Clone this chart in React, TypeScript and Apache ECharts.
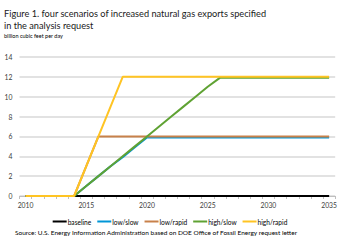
import React, { useEffect, useRef } from "react";
import * as echarts from "echarts";

const years = Array.from({ length: 26 }, (_, i) => String(2010 + i));
const baseline = [0,0,0,0,0,0,0,0,0,0,0,0,0,0,0,0,0,0,0,0,0,0,0,0,0,0];
const lowSlow = [0,0,0,0,0,1,2,3,3.9,4.9,5.9,5.9,5.9,5.9,5.9,5.9,5.9,5.9,5.9,5.9,5.9,5.9,5.9,5.9,5.9,5.9];
const lowRapid = [0,0,0,0,0,3,6,6,6,6,6,6,6,6,6,6,6,6,6,6,6,6,6,6,6,6];
const highSlow = [0,0,0,0,0,1,2,3,4,5,6,7,8,9,10,11,11.9,11.9,11.9,11.9,11.9,11.9,11.9,11.9,11.9,11.9];
const highRapid = [0,0,0,0,0,3,6,9,12,12,12,12,12,12,12,12,12,12,12,12,12,12,12,12,12,12];

const FONT = "Lato";

export default function App() {
  const ref = useRef<HTMLDivElement>(null);
  useEffect(() => {
    const chart = echarts.init(ref.current!, null, { renderer: "svg" });
    const mk = (name: string, data: number[], color: string) => ({
      name,
      type: "line",
      data,
      symbol: "none",
      lineStyle: { color, width: 2 },
      itemStyle: { color },
    });
    chart.setOption({
      animation: false,
      textStyle: { fontFamily: FONT },
      title: [
        {
          text: "Figure 1. four scenarios of increased natural gas exports specified\nin the analysis request",
          left: 4,
          top: 7,
          padding: 0,
          textStyle: { fontSize: 9.2, lineHeight: 12, fontWeight: "normal", color: "#1a1a1a", fontFamily: FONT },
        },
        {
          text: "billion cubic feet per day",
          left: 4,
          top: 33,
          padding: 0,
          textStyle: { fontSize: 5.5, fontWeight: "normal", color: "#000", fontFamily: FONT },
        },
        {
          text: "Source: U.S. Energy Information Administration based on DOE Office of Fossil Energy request letter",
          left: 15,
          top: 229,
          padding: 0,
          textStyle: { fontSize: 6.5, fontWeight: "normal", color: "#000", fontFamily: FONT },
        },
      ],
      legend: {
        top: 218,
        left: "center",
        icon: "rect",
        itemWidth: 14,
        itemHeight: 2,
        itemGap: 6,
        padding: 0,
        textStyle: { fontSize: 6.6, color: "#000", fontFamily: FONT, padding: [0, 0, 0, -4] },
        data: ["baseline", "low/slow", "low/rapid", "high/slow", "high/rapid"],
      },
      grid: { left: 19.5, right: 4.5, top: 57, bottom: 44, containLabel: false },
      xAxis: {
        type: "category",
        data: years,
        boundaryGap: true,
        axisLine: { lineStyle: { color: "#bfbfbf", width: 1 } },
        axisTick: { show: true, interval: 0, length: 3, lineStyle: { color: "#bfbfbf" } },
        axisLabel: { interval: 4, fontSize: 6.8, color: "#404040", margin: 5, fontFamily: FONT },
      },
      yAxis: {
        type: "value",
        min: 0,
        max: 14,
        interval: 2,
        axisLine: { show: false },
        axisTick: { show: false },
        splitLine: { lineStyle: { color: "#d9d9d9", width: 1.5 } },
        axisLabel: { fontSize: 6.8, color: "#404040", margin: 7, fontFamily: FONT },
      },
      series: [
        mk("baseline", baseline, "#000000"),
        mk("low/slow", lowSlow, "#0096d7"),
        mk("low/rapid", lowRapid, "#c8814a"),
        mk("high/slow", highSlow, "#5fa233"),
        mk("high/rapid", highRapid, "#ffc423"),
      ],
    });
    return () => chart.dispose();
  }, []);
  return <div ref={ref} style={{ position: "absolute", left: 0, top: 0, width: 340, height: 240 }} />;
}
